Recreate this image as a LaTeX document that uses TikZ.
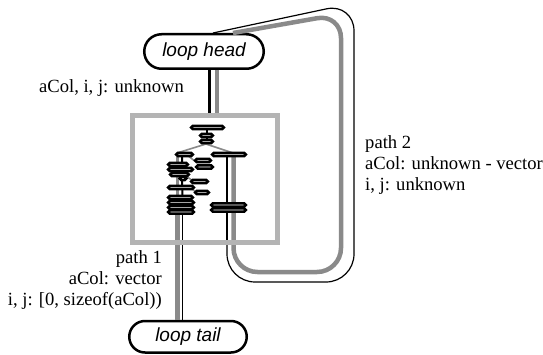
\documentclass[tikz,border=0pt]{standalone}
\usepackage{fontspec}
\setmainfont{Liberation Serif}
\newfontfamily\sansfam{Liberation Sans}
\usetikzlibrary{shapes.misc}
\definecolor{pathgray}{RGB}{138,138,138}
\definecolor{boxgray}{RGB}{180,180,180}
\begin{document}
\begin{tikzpicture}[x=1pt,y=-1pt,
  term/.style={rounded rectangle, draw, line width=2.5pt, fill=white,
    font=\sansfam\itshape\fontsize{19}{22}\selectfont, inner sep=0pt},
  lbl/.style={font=\fontsize{18.6}{21}\selectfont, inner sep=0pt},
  blkline/.style={line width=3pt},
  grayline/.style={draw=pathgray, line width=4.5pt},
  thinblk/.style={line width=1.2pt},
  bar/.style={draw=black, line width=2.5pt, fill=white, rounded corners=1.7pt},
  twig/.style={draw=pathgray, line width=1.6pt}
]
\useasboundingbox (0,0) rectangle (543,355);

% terminal nodes
\node[term, minimum width=119.5, minimum height=34.5] (head) at (204,51.5) {loop head};
\node[term, minimum width=117.5, minimum height=31.5] (tail) at (188,336.75) {loop tail};

% named points inside the box
\coordinate (lstackG) at (177.5,214);
\coordinate (lstackB) at (182.5,214);
\coordinate (rbG) at (233.5,156);
\coordinate (rbB) at (227,156);

% path 2 (back edge)
\draw[grayline, rounded corners=24pt] ([xshift=29]head.north) -- (341,14) -- (341,272) -- (233.5,272) -- (rbG);
\draw[thinblk, rounded corners=28pt] ([xshift=9]head.north) -- (354,3) -- (354,282) -- (227,282) -- (rbB);
\draw[line width=2pt] (rbB) -- (227,242);

% head -> box
\draw[blkline] ([xshift=5]head.south) -- (209,115.5);
\draw[draw=pathgray, line width=4pt] ([xshift=13]head.south) -- (217,115.5);

% path 1 (exit)
\draw[grayline] (lstackG) -- ([xshift=-10.5]tail.north);
\draw[line width=1.6pt] (lstackB) -- ([xshift=-5.5]tail.north);

% inner structure: stems
\draw[line width=1.6pt] (207,128) -- (207,142);
\draw[twig] (206,144) -- (177,153);
\draw[twig] (206,144) -- (233,153);
\draw[twig] (187,155) -- (196,162);
\draw[twig] (192,188) -- (196,193);
\draw[twig] (186,176) -- (193,181);
\draw[draw=pathgray, line width=2.5pt] (177.5,157) -- (lstackG);
\draw[line width=2pt] (182,157) -- (lstackB);

% inner structure: bars
\foreach \cx/\cy/\w in {207.5/127.5/35, 206.5/135.5/15, 206.5/141.5/15,
  184.5/154.5/19, 229/154.5/36, 203/160.5/18, 178/164.5/22, 204.5/167/19,
  180.5/169.5/27, 179.5/174.5/21, 183/178.5/9, 199.5/181.5/19,
  181/187.5/28, 202/192.5/16, 180.5/197.5/27, 181/202.5/28,
  181/207.5/28, 181/212/28, 228.5/205/37, 228.5/210/37}
  \draw[bar] ({\cx-\w/2+1.25},{\cy-1.7}) rectangle ({\cx+\w/2-1.25},{\cy+1.7});

% box frame on top
\node[draw=boxgray, line width=5pt, minimum width=145, minimum height=127, inner sep=0pt] (box) at (205,179) {};

% labels
\node[lbl, anchor=base east] (l0) at (184,93) {aCol, i, j: unknown};
\node[lbl, anchor=base east] (p1a) at (162,264) {path 1};
\node[lbl, anchor=base east] (p1b) at (162,284.5) {aCol: vector};
\node[lbl, anchor=base east] (p1c) at (162,305) {i, j: [0, sizeof(aCol))};
\node[lbl, anchor=base west] (p2a) at (365,148.5) {path 2};
\node[lbl, anchor=base west] (p2b) at (365,169.5) {aCol: unknown - vector};
\node[lbl, anchor=base west] (p2c) at (365,190.5) {i, j: unknown};
\end{tikzpicture}
\end{document}
